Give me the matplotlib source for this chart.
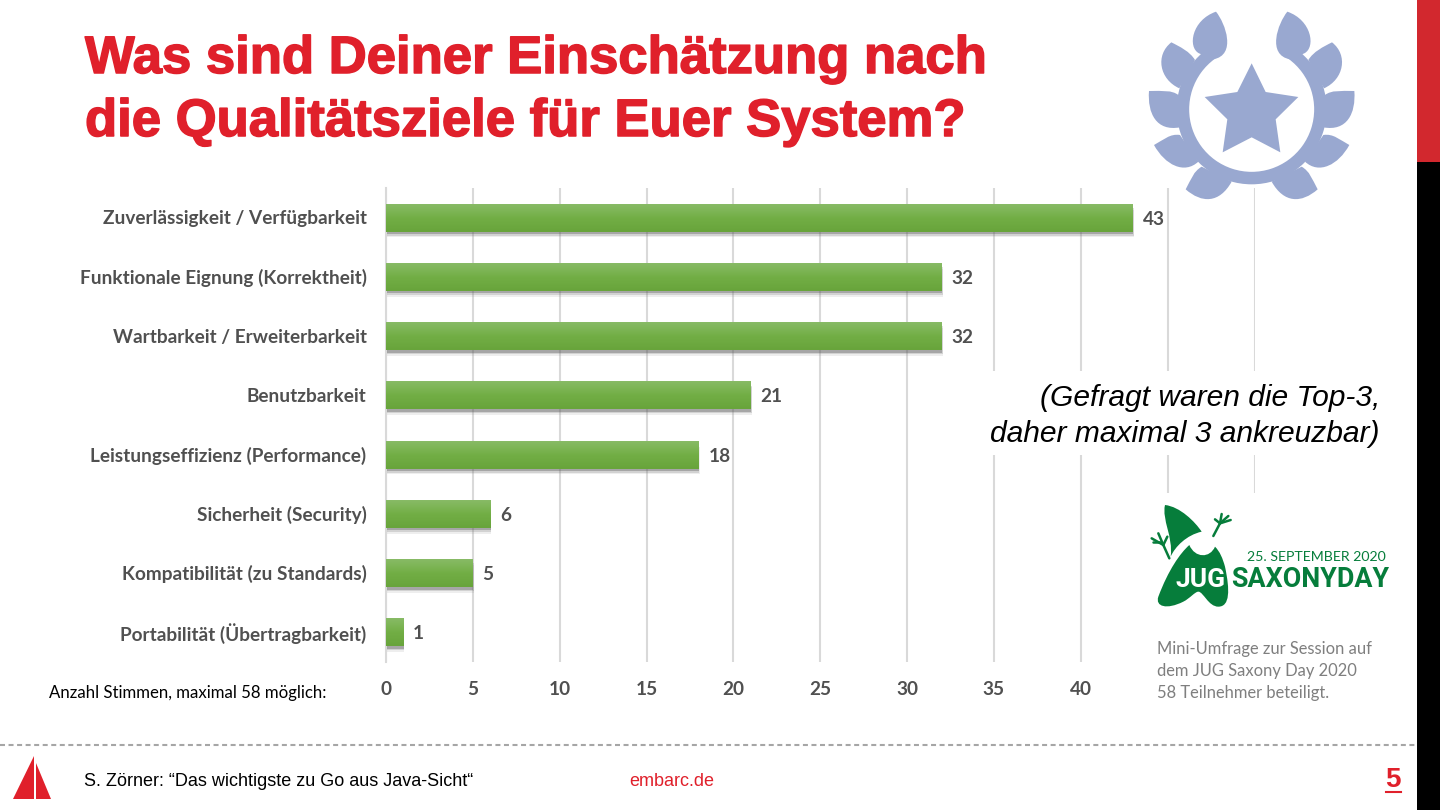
import numpy as np
import matplotlib
matplotlib.use("Agg")
import matplotlib.pyplot as plt
import matplotlib.patheffects as pe
from matplotlib.patches import PathPatch, Polygon, Rectangle, Wedge
from matplotlib.path import Path
from matplotlib.transforms import ScaledTranslation

categories = [
    "Zuverlässigkeit / Verfügbarkeit",
    "Funktionale Eignung (Korrektheit)",
    "Wartbarkeit / Erweiterbarkeit",
    "Benutzbarkeit",
    "Leistungseffizienz (Performance)",
    "Sicherheit (Security)",
    "Kompatibilität (zu Standards)",
    "Portabilität (Übertragbarkeit)",
]
votes = [43, 32, 32, 21, 18, 6, 5, 1]
x_ticks = [0, 5, 10, 15, 20, 25, 30, 35, 40, 45, 50]
x_tick_labels = ["0", "5", "10", "15", "20", "25", "30", "35", "40", "", ""]

title_lines = ["Was sind Deiner Einschätzung nach", "die Qualitätsziele für Euer System?"]
note_lines = ["(Gefragt waren die Top-3,", "daher maximal 3 ankreuzbar)"]
survey_lines = ["Mini-Umfrage zur Session auf", "dem JUG Saxony Day 2020", "58 Teilnehmer beteiligt."]

RED = "#E0202B"
GREY = "#505050"
GRID = "#D9D9D9"
BLUE = "#99A8D0"
LOGO = "#067D3B"
W, H = 1440, 810

plt.rcParams["font.family"] = ["Liberation Sans", "DejaVu Sans"]
fig = plt.figure(figsize=(14.4, 8.1), dpi=100, facecolor="white")

# --- chart ---
left, right, top, bottom = 386, 1254.5, 188, 662
ax = fig.add_axes([left / W, 1 - bottom / H, (right - left) / W, (bottom - top) / H])
ypos = np.arange(len(categories))
bars = ax.barh(ypos, votes, height=0.47, color="#74AD4B", zorder=3)
grad = np.linspace(0, 1, 64).reshape(-1, 1)
cmap = matplotlib.colors.LinearSegmentedColormap.from_list("bar", ["#88BB66", "#72AE45", "#68A43B"])
for bar in bars:
    bar.set_path_effects([
        pe.SimplePatchShadow(offset=(0.8, -4.2), shadow_rgbFace="#777777", alpha=0.12),
        pe.SimplePatchShadow(offset=(0.6, -3), shadow_rgbFace="#666666", alpha=0.2),
        pe.SimplePatchShadow(offset=(0.4, -1.8), shadow_rgbFace="#555555", alpha=0.35),
        pe.Normal(),
    ])
    x0, y0, bw, bh = bar.get_bbox().bounds
    ax.imshow(grad, extent=(x0, x0 + bw, y0 + bh, y0), aspect="auto", cmap=cmap, zorder=4)
for y, v in zip(ypos, votes):
    ax.annotate(str(v), (v, y), xytext=(7, -1), textcoords="offset points", va="center", ha="left",
                fontsize=13.7, fontweight="bold", color=GREY, family="Lato", zorder=5)
ax.set_xlim(0, 50)
ax.set_ylim(len(categories) - 0.5, -0.5)
ax.set_yticks(ypos, categories, fontsize=13.7, fontweight="bold", color=GREY, family="Lato")
ax.set_xticks(x_ticks, x_tick_labels, fontsize=13.7, fontweight="bold", color=GREY, family="Lato")
ax.tick_params(length=0)
ax.tick_params(axis="y", pad=14)
ax.tick_params(axis="x", pad=13.5)
for lbl in ax.get_yticklabels():
    lbl.set_transform(lbl.get_transform() + ScaledTranslation(0, 0.4 / 100, fig.dpi_scale_trans))
ax.grid(axis="x", color=GRID, linewidth=1.5, zorder=0)
ax.set_axisbelow(True)
for side in ["top", "right", "bottom"]:
    ax.spines[side].set_visible(False)
ax.spines["left"].set_color(GRID)
ax.spines["left"].set_linewidth(1.5)

# --- slide decoration, drawn in pixel coordinates ---
deco = fig.add_axes([0, 0, 1, 1], zorder=5)
deco.set_xlim(0, W)
deco.set_ylim(H, 0)
deco.axis("off")
deco.patch.set_alpha(0)

# masks over the grid
deco.add_patch(Rectangle((985, 371), 410, 84, fc="white", ec="none"))
deco.add_patch(Rectangle((1140, 493), 260, 200, fc="white", ec="none"))

# sidebar
deco.add_patch(Rectangle((1417, 0), 23, 162, fc="#D2282E", ec="none"))
deco.add_patch(Rectangle((1417, 162), 23, H - 162, fc="black", ec="none"))

# title
for line, y in zip(title_lines, [73, 136]):
    deco.text(85, y, line, fontsize=37.9, fontweight="bold", color=RED, va="baseline", ha="left",
              path_effects=[pe.withStroke(linewidth=1.1, foreground=RED)])

# side notes
for line, y in zip(note_lines, [406, 442]):
    deco.text(1380, y, line, fontsize=21.6, style="italic", color="black", va="baseline", ha="right")
for line, y in zip(survey_lines, [654, 676, 698]):
    deco.text(1157, y, line, fontsize=11.9, color="#7F7F7F", family="Lato", va="baseline", ha="left")
deco.text(49, 698, "Anzahl Stimmen, maximal 58 möglich:", fontsize=12.05, color="black",
          family="Lato", va="baseline", ha="left")

# laurel wreath, shapes taken from the 3x crop
def wreath_pt(p, mirror=False):
    x, y = p
    if mirror:
        x = 730 - x
    return (1130 + x / 3, y / 3)

leaves = [
    [(258, 35), (185, 60), (172, 142), (207, 160), (250, 178), (320, 165), (287, 71), (258, 35)],
    [(124, 127), (75, 165), (88, 238), (148, 265), (195, 180), (180, 155), (150, 140), (124, 127)],
    [(57, 273), (52, 340), (79, 395), (150, 382), (145, 285), (125, 270), (100, 273), (57, 273)],
    [(72, 435), (105, 495), (163, 524), (205, 485), (150, 405), (120, 400), (100, 420), (72, 435)],
    [(167, 568), (215, 610), (268, 611), (305, 545), (215, 500), (190, 515), (185, 535), (167, 568)],
]
codes = [Path.MOVETO, Path.CURVE4, Path.CURVE4, Path.CURVE4, Path.LINETO, Path.CURVE4, Path.CURVE4, Path.CURVE4]
for leaf in leaves:
    for mirror in [False, True]:
        verts = [wreath_pt(p, mirror) for p in leaf]
        deco.add_patch(PathPatch(Path(verts, codes), fc=BLUE, ec="none"))
deco.add_patch(Wedge(wreath_pt((365, 328)), 75, -54, 234, width=12.5, fc=BLUE, ec="none"))
star = [(365, 190), (407, 276), (505, 291), (437, 358), (451, 457), (365, 412), (278, 457), (292, 358), (224, 291), (322, 276)]
deco.add_patch(Polygon([wreath_pt(p) for p in star], fc=BLUE, ec="none"))

# JUG Saxony Day logo, shapes taken from the 3x crop
def logo_pt(p):
    return (1130 + p[0] / 3, 490 + p[1] / 3)

hat = [(105, 45), (150, 50), (195, 95), (215, 125), (170, 135), (135, 170), (122, 200), (130, 140), (95, 90), (105, 45)]
hat_codes = [Path.MOVETO] + [Path.CURVE4] * 9
deco.add_patch(PathPatch(Path([logo_pt(p) for p in hat], hat_codes), fc=LOGO, ec="none"))
body = [(178, 165), (150, 190), (115, 240), (85, 320), (75, 350), (110, 360), (160, 335), (180, 325), (195, 305), (205, 305),
        (220, 305), (235, 350), (265, 350), (300, 350), (300, 300), (285, 230), (278, 205), (270, 185), (255, 170),
        (240, 205), (195, 205), (178, 165)]
body_codes = [Path.MOVETO] + [Path.CURVE4] * 21
deco.add_patch(PathPatch(Path([logo_pt(p) for p in body], body_codes), fc=LOGO, ec="none"))
sprouts = [
    [(118, 205), (100, 165), (65, 145)], [(100, 165), (85, 130)], [(100, 165), (112, 140)], [(92, 155), (68, 155)],
    [(250, 138), (270, 100), (255, 88)], [(270, 100), (275, 72)], [(270, 100), (302, 90)], [(270, 100), (295, 78)],
]
for s in sprouts:
    pts = np.array([logo_pt(p) for p in s])
    deco.plot(pts[:, 0], pts[:, 1], color=LOGO, linewidth=1.8, solid_capstyle="round")
deco.text(1175, 587, "JUG", fontsize=19, fontweight="bold", color="white", family="Roboto", va="baseline", ha="left")
deco.text(1231, 587, "SAXONYDAY", fontsize=19.4, fontweight="bold", color=LOGO, family="Roboto", va="baseline", ha="left")
deco.text(1247, 561, "25. SEPTEMBER 2020", fontsize=10.2, color=LOGO, family="Lato", va="baseline", ha="left")

# footer
deco.plot([0, 1417], [745, 745], color="#A6A6A6", linewidth=1.5, linestyle=(0, (2.4, 1.7)))
deco.add_patch(Polygon([(33.5, 756), (33.5, 799), (13, 799)], fc=RED, ec="none"))
deco.add_patch(Polygon([(36, 763), (36, 799), (51, 799)], fc=RED, ec="none"))
deco.text(84, 786, "S. Zörner: “Das wichtigste zu Go aus Java-Sicht“", fontsize=13, color="black", va="baseline", ha="left")
deco.text(629, 786, "embarc.de", fontsize=13, color=RED, va="baseline", ha="left")
deco.text(1393, 787, "5", fontsize=20, fontweight="bold", color=RED, va="baseline", ha="center")
deco.plot([1386, 1401], [792, 792], color=RED, linewidth=1.5)

fig.savefig("out.png", dpi=100)
